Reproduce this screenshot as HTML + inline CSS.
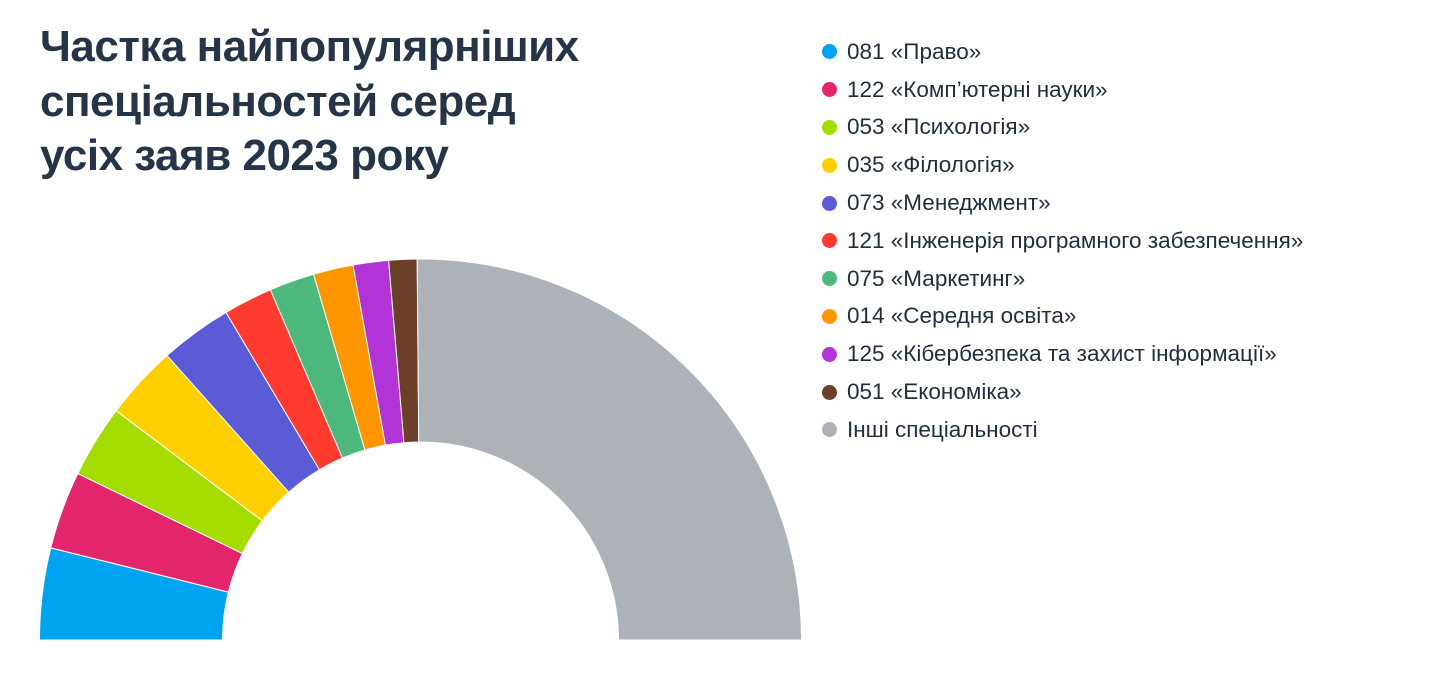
<!DOCTYPE html>
<html><head><meta charset="utf-8"><style>
body{margin:0;width:1440px;height:700px;background:#fff;overflow:hidden;font-family:"Liberation Sans",sans-serif;position:relative}
h1{position:absolute;left:40px;top:20px;margin:0;font-size:44px;line-height:54.5px;font-weight:bold;color:#263447;letter-spacing:-0.5px}
#legend{position:absolute;left:822px;top:33px}
.li{height:37.8px;font-size:22.5px;color:#1f2d3f;display:flex;align-items:center;white-space:nowrap}
.dot{width:15px;height:15px;border-radius:50%;margin-right:10px;flex:none}
svg{position:absolute;left:0;top:0}
</style></head><body>
<h1>Частка найпопулярніших<br>спеціальностей серед<br>усіх заяв 2023 року</h1>
<svg id="chart" width="1440" height="700"></svg>
<div id="legend"></div>
<script>
const categories=["081 «Право»","122 «Комп’ютерні науки»","053 «Психологія»","035 «Філологія»","073 «Менеджмент»","121 «Інженерія програмного забезпечення»","075 «Маркетинг»","014 «Середня освіта»","125 «Кібербезпека та захист інформації»","051 «Економіка»","Інші спеціальності"];
const values=[14,11.9,11.1,11.3,11,7.5,6.9,6.1,5.4,4.3,90.5];
const colors=["#00a3f0","#e3266c","#a4dc00","#ffcf00","#5b5bd6","#ff3b30","#4cb87c","#ff9500","#b233d6","#6b3f2a","#adb2b9"];
const cx=420.5,cy=640,R=381,r=198;
const svg=document.getElementById('chart');
const total=values.reduce((a,b)=>a+b,0);
let acc=0;
function pt(rad,a){return [cx-rad*Math.cos(a),cy-rad*Math.sin(a)];}
values.forEach((v,i)=>{
 const a0=acc/total*Math.PI;acc+=v;const a1=acc/total*Math.PI;
 const [x0,y0]=pt(R,a0),[x1,y1]=pt(R,a1),[x2,y2]=pt(r,a1),[x3,y3]=pt(r,a0);
 const p=document.createElementNS('http://www.w3.org/2000/svg','path');
 p.setAttribute('d',`M${x0},${y0}A${R},${R} 0 0 1 ${x1},${y1}L${x2},${y2}A${r},${r} 0 0 0 ${x3},${y3}Z`);
 p.setAttribute('fill',colors[i]);p.setAttribute('stroke','#fff');p.setAttribute('stroke-width','1');
 
 
 svg.appendChild(p);
});
const lg=document.getElementById('legend');
categories.forEach((c,i)=>{
 const d=document.createElement('div');d.className='li';
 
 
 d.innerHTML=`<span class="dot" style="background:${colors[i]}"></span>${c}`;
 lg.appendChild(d);
});
</script>
</body></html>
